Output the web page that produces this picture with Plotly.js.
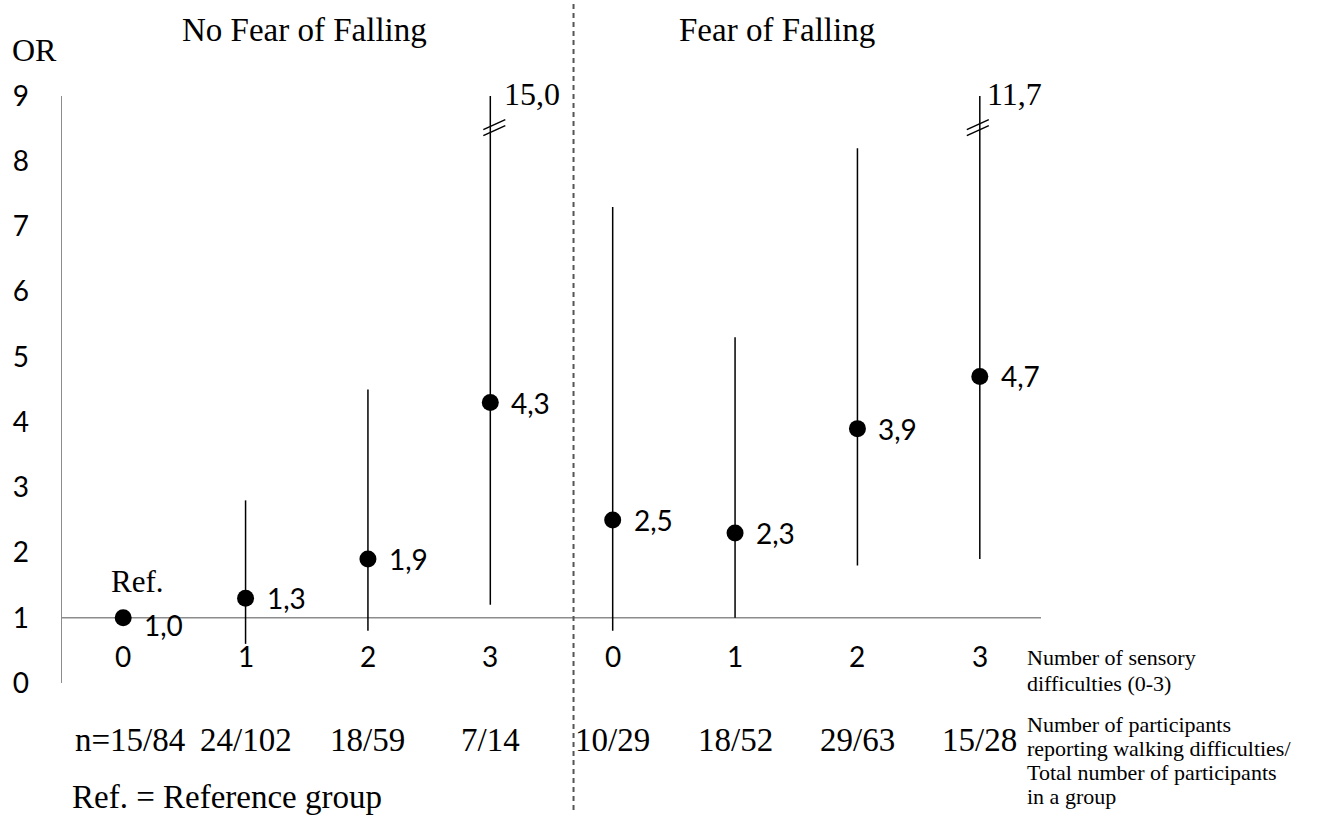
<!DOCTYPE html>
<html>
<head>
<meta charset="utf-8">
<script src="https://cdn.plot.ly/plotly-3.0.1.min.js"></script>
<style>html,body{margin:0;padding:0;background:#fff;}#chart{width:1318px;height:822px;}</style>
</head>
<body>
<div id="chart"></div>
<script>
// ---- data ----
const groupTitles = ["No Fear of Falling", "Fear of Falling"];
const sensoryLabels = ["0", "1", "2", "3", "0", "1", "2", "3"];
const oddsRatio = [1.0, 1.3, 1.9, 4.3, 2.5, 2.3, 3.9, 4.7];
const ciLower = [1.0, 0.6, 0.8, 1.2, 0.8, 1.0, 1.8, 1.9];
const ciUpper = [1.0, 2.8, 4.5, 15.0, 7.3, 5.3, 8.2, 11.7];
const groupCounts = ["n=15/84", "24/102", "18/59", "7/14", "10/29", "18/52", "29/63", "15/28"];
const yTicks = [0, 1, 2, 3, 4, 5, 6, 7, 8, 9];
const sensoryNote = ["Number of sensory", "difficulties (0-3)"];
const countNote = ["Number of participants", "reporting walking difficulties/", "Total number of participants", "in a group"];
const refNote = "Ref. = Reference group";

// ---- layout helpers ----
const W = 1318, H = 822;
const M = {l: 62, r: 277, t: 96, b: 139};
const PW = W - M.l - M.r, PH = H - M.t - M.b;
const px = x => (x - M.l) / PW;
const py = y => (H - M.b - y) / PH;
const YMAX = 9;
const SERIF = "Liberation Serif, 'Times New Roman', serif";
const SANS = "Lato, Carlito, Calibri, sans-serif";
const fmt = v => v.toFixed(1).replace('.', ',');

const xs = oddsRatio.map((_, i) => i);
const shownUpper = ciUpper.map(u => Math.min(u, YMAX));

const trace = {
  type: 'scatter', mode: 'markers',
  x: xs, y: oddsRatio,
  marker: {color: '#000', size: 17},
  error_y: {
    type: 'data', symmetric: false,
    array: shownUpper.map((u, i) => u - oddsRatio[i]),
    arrayminus: ciLower.map((l, i) => oddsRatio[i] - l),
    color: '#000', thickness: 1.5, width: 0
  },
  hoverinfo: 'skip'
};

const annotations = [];
const shapes = [];

// value labels
oddsRatio.forEach((v, i) => {
  annotations.push({x: i, y: v, xref: 'x', yref: 'y', text: fmt(v), showarrow: false,
    xanchor: 'left', yanchor: 'middle', xshift: 19, yshift: i === 0 ? -7 : 0,
    font: {family: SANS, size: 28, color: '#000'}});
});
// Ref. label
annotations.push({x: 0, y: oddsRatio[0], xref: 'x', yref: 'y', text: 'Ref.', showarrow: false,
  xanchor: 'center', yanchor: 'middle', xshift: 14, yshift: 36,
  font: {family: SERIF, size: 31, color: '#000'}});
// sensory count labels (inside plot)
sensoryLabels.forEach((t, i) => {
  annotations.push({x: i, y: 0.41, xref: 'x', yref: 'y', text: t, showarrow: false,
    xanchor: 'center', yanchor: 'middle', font: {family: SANS, size: 28, color: '#000'}});
});
// group counts
groupCounts.forEach((t, i) => {
  annotations.push({x: i, y: py(740), xref: 'x', yref: 'paper', text: t, showarrow: false,
    xanchor: 'center', yanchor: 'middle', xshift: i === 0 ? 7 : 0,
    font: {family: SERIF, size: 33, color: '#000'}});
});
// truncated CIs: break marks and values
ciUpper.forEach((u, i) => {
  if (u > YMAX) {
    annotations.push({x: i, y: YMAX, xref: 'x', yref: 'y', text: fmt(u), showarrow: false,
      xanchor: 'left', yanchor: 'middle', xshift: i < 4 ? 12 : 5, yshift: 2,
      font: {family: SERIF, size: 32, color: '#000'}});
    const off = i < 4 ? -7 : -13;
    [[-1, 9], [-7, 3]].forEach(([a, b]) => {
      shapes.push({type: 'line', xref: 'x', yref: 'y', xsizemode: 'pixel', ysizemode: 'pixel',
        xanchor: i, yanchor: 8.5, x0: off, x1: off + 22, y0: a, y1: b,
        line: {color: '#000', width: 1.5}});
    });
  }
});
// group titles
annotations.push({x: px(304), y: py(30), xref: 'paper', yref: 'paper', text: groupTitles[0], showarrow: false,
  xanchor: 'center', yanchor: 'middle', font: {family: SERIF, size: 33, color: '#000'}});
annotations.push({x: px(777), y: py(30), xref: 'paper', yref: 'paper', text: groupTitles[1], showarrow: false,
  xanchor: 'center', yanchor: 'middle', font: {family: SERIF, size: 33, color: '#000'}});
// OR label
annotations.push({x: px(34), y: py(50), xref: 'paper', yref: 'paper', text: 'OR', showarrow: false,
  xanchor: 'center', yanchor: 'middle', font: {family: SERIF, size: 32, color: '#000'}});
// right notes
sensoryNote.forEach((t, k) => {
  annotations.push({x: px(1025), y: py(657 + 27 * k), xref: 'paper', yref: 'paper', text: t, showarrow: false,
    xanchor: 'left', yanchor: 'middle', font: {family: SERIF, size: 22, color: '#000'}});
});
countNote.forEach((t, k) => {
  annotations.push({x: px(1025), y: py(724 + 24.3 * k), xref: 'paper', yref: 'paper', text: t, showarrow: false,
    xanchor: 'left', yanchor: 'middle', font: {family: SERIF, size: 22, color: '#000'}});
});
annotations.push({x: px(70), y: py(797), xref: 'paper', yref: 'paper', text: refNote, showarrow: false,
  xanchor: 'left', yanchor: 'middle', font: {family: SERIF, size: 33, color: '#000'}});

// reference line at OR = 1
shapes.push({type: 'line', xref: 'paper', yref: 'y', x0: 0, x1: 1, y0: 1, y1: 1,
  line: {color: '#8c8c8c', width: 1.5}, layer: 'below'});
// dashed separator
shapes.push({type: 'line', xref: 'x', yref: 'paper', x0: 3.68, x1: 3.68, y0: py(4), y1: py(810),
  line: {color: '#555', width: 2, dash: '5px,4px'}});

const layout = {
  width: W, height: H,
  margin: M,
  paper_bgcolor: '#fff', plot_bgcolor: '#fff',
  showlegend: false,
  xaxis: {range: [-0.5, 7.5], showgrid: false, zeroline: false, showline: false,
    showticklabels: false, ticks: '', fixedrange: true},
  yaxis: {range: [0, YMAX], tickvals: yTicks, ticktext: yTicks.map(String), showgrid: false, zeroline: false,
    showline: true, linecolor: '#8c8c8c', linewidth: 1.5, ticks: '', ticklabelstandoff: 26,
    tickfont: {family: SANS, size: 28, color: '#000'}, fixedrange: true},
  annotations: annotations,
  shapes: shapes
};

Plotly.newPlot('chart', [trace], layout, {displayModeBar: false, staticPlot: true});
</script>
</body>
</html>
